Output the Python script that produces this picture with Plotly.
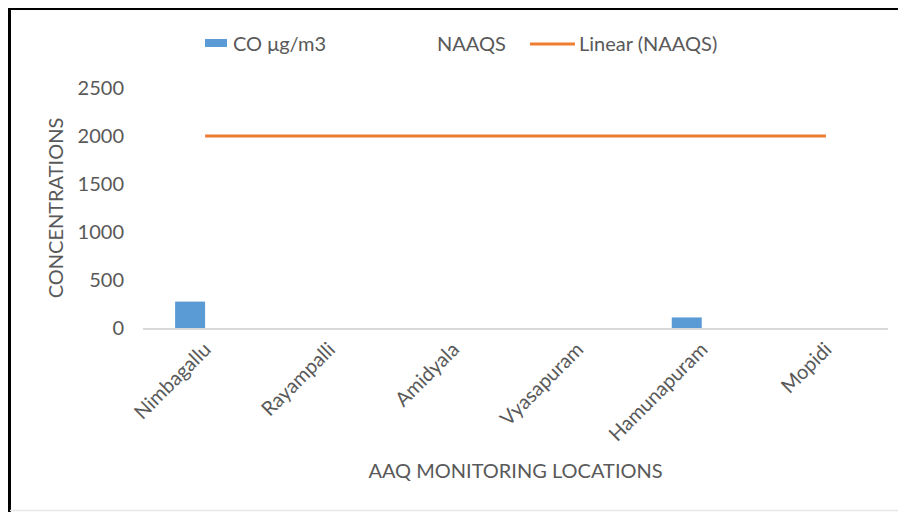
import plotly.graph_objects as go

locations = ["Nimbagallu", "Rayampalli", "Amidyala", "Vyasapuram", "Hamunapuram", "Mopidi"]
co_values = [275, 0, 0, 0, 110, 0]
naaqs_values = [2000, 2000, 2000, 2000, 2000, 2000]
y_ticks = [0, 500, 1000, 1500, 2000, 2500]

FONT = "Lato"
GRAY = "#595959"
BLUE = "#5B9BD5"
ORANGE = "#ED7D31"

# page offset (body margin) and plot area in page pixels
OFF = 8
W, H = 906 - OFF, 512 - OFF
L, T = 143 - OFF, 88 - OFF
pw, ph = 745, 240
R = W - L - pw
B = H - T - ph

def px(x):
    # page x -> paper
    return (x - OFF - L) / pw

def py(y):
    # page y -> paper
    return (T + ph - (y - OFF)) / ph

fig = go.Figure()
fig.add_trace(go.Bar(x=locations, y=co_values, name="CO μg/m3",
                     marker=dict(color=BLUE, line=dict(width=0)), showlegend=False))
fig.add_trace(go.Bar(x=locations, y=naaqs_values, name="NAAQS",
                     marker=dict(color="rgba(0,0,0,0)", line=dict(width=0)), showlegend=False))
fig.add_trace(go.Scatter(x=locations, y=naaqs_values, mode="lines", name="Linear (NAAQS)",
                         line=dict(color=ORANGE, width=3), showlegend=False))

shapes = [
    # border
    dict(type="line", xref="paper", yref="paper", x0=px(8), x1=px(906), y0=py(8.5), y1=py(8.5),
         line=dict(color="black", width=3)),
    dict(type="line", xref="paper", yref="paper", x0=px(9.5), x1=px(9.5), y0=py(8), y1=py(512),
         line=dict(color="black", width=3)),
    dict(type="line", xref="paper", yref="paper", x0=px(10), x1=px(906), y0=py(510.5), y1=py(510.5),
         line=dict(color="#E6E6E6", width=1.5)),
    # legend swatches
    dict(type="rect", xref="paper", yref="paper", x0=px(205), x1=px(227), y0=py(47), y1=py(39),
         fillcolor=BLUE, line=dict(width=0)),
    dict(type="line", xref="paper", yref="paper", x0=px(530), x1=px(575), y0=py(44), y1=py(44),
         line=dict(color=ORANGE, width=3)),
]

annotations = [
    dict(text="CO μg/m3", x=px(231), y=py(43), xref="paper", yref="paper", xanchor="left",
         yanchor="middle", showarrow=False, font=dict(family=FONT, size=20, color=GRAY)),
    dict(text="NAAQS", x=px(435), y=py(43), xref="paper", yref="paper", xanchor="left",
         yanchor="middle", showarrow=False, font=dict(family=FONT, size=20, color=GRAY)),
    dict(text="Linear (NAAQS)", x=px(577), y=py(43), xref="paper", yref="paper", xanchor="left",
         yanchor="middle", showarrow=False, font=dict(family=FONT, size=20, color=GRAY)),
]

fig.update_layout(
    width=W, height=H,
    margin=dict(l=L, r=R, t=T, b=B, pad=0),
    paper_bgcolor="white", plot_bgcolor="white",
    barmode="group", bargap=0.517, bargroupgap=0,
    font=dict(family=FONT, color=GRAY, size=20),
    shapes=shapes, annotations=annotations,
    showlegend=False,
)
fig.update_xaxes(
    showgrid=False, showline=True, linecolor="#D9D9D9", linewidth=1.5,
    tickangle=-45, tickfont=dict(family=FONT, size=20, color=GRAY),
    title=dict(text="AAQ MONITORING LOCATIONS", font=dict(family=FONT, size=20, color=GRAY), standoff=20),
    ticks="", zeroline=False,
)
fig.update_yaxes(
    range=[0, 2500], tickvals=y_ticks, showgrid=False, showline=False, zeroline=False,
    tickfont=dict(family=FONT, size=20, color=GRAY), ticklabelstandoff=18,
    title=dict(text="CONCENTRATIONS", font=dict(family=FONT, size=20, color=GRAY), standoff=8),
)

fig.write_html("out.html")
